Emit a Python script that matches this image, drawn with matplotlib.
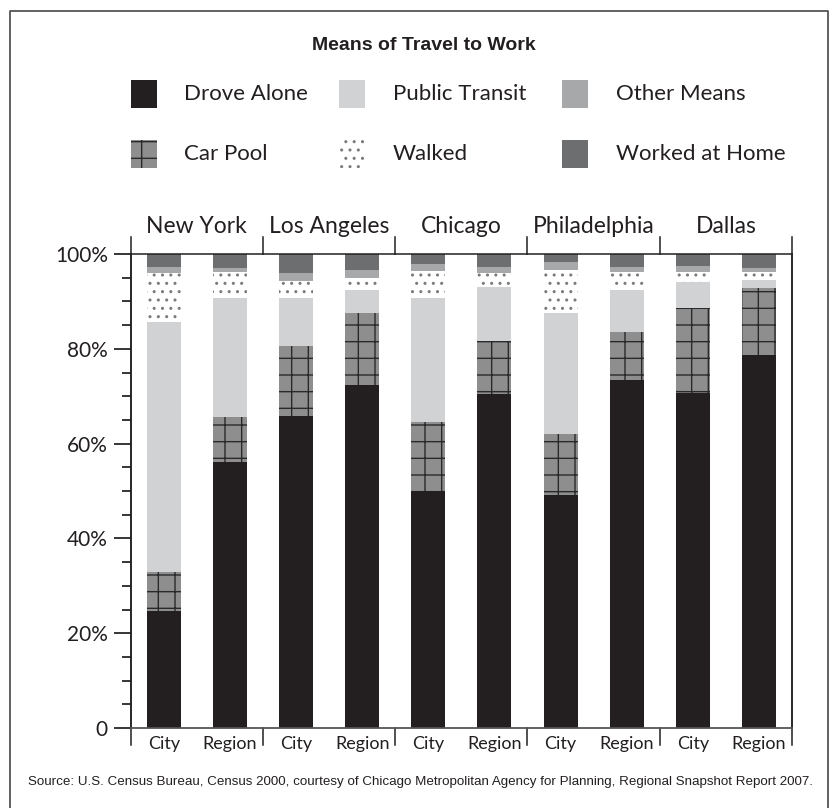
import numpy as np
import matplotlib
matplotlib.use("Agg")
import matplotlib.pyplot as plt
from matplotlib.patches import Rectangle
from matplotlib.lines import Line2D
import matplotlib.transforms as mtransforms
from matplotlib import font_manager

# data: share of workers by mode (percent), bottom to top of each stack
cities = ["New York", "Los Angeles", "Chicago", "Philadelphia", "Dallas"]
areas = ["City", "Region"]
modes = ["Drove Alone", "Car Pool", "Public Transit", "Walked", "Other Means", "Worked at Home"]

# order of bars: NY City, NY Region, LA City, LA Region, ...
drove_alone = [24.7, 56.1, 65.8, 72.4, 50.0, 70.5, 49.2, 73.4, 70.7, 78.7]
car_pool = [8.2, 9.6, 14.8, 15.2, 14.6, 11.1, 12.8, 10.1, 17.9, 14.1]
public_transit = [52.8, 25.0, 10.1, 4.8, 26.1, 11.4, 25.6, 8.9, 5.5, 1.7]
walked = [10.3, 5.6, 3.6, 2.6, 5.7, 3.0, 9.0, 3.8, 2.1, 1.7]
other_means = [1.2, 0.8, 1.7, 1.6, 1.5, 1.3, 1.7, 1.1, 1.3, 0.8]
worked_home = [2.8, 3.0, 4.0, 3.4, 2.1, 2.7, 1.7, 2.7, 2.5, 3.0]

yticks = [0, 20, 40, 60, 80, 100]
ytick_labels = ["0", "20%", "40%", "60%", "80%", "100%"]

series = [drove_alone, car_pool, public_transit, walked, other_means, worked_home]
styles = {
    "Drove Alone": dict(color="#231f20"),
    "Car Pool": dict(facecolor="#8e8e8e", edgecolor="#2a2a2a", hatch="+"),
    "Public Transit": dict(color="#d1d2d4"),
    "Walked": dict(facecolor="white", edgecolor="#7a7a7a", hatch=".."),
    "Other Means": dict(color="#a7a8aa"),
    "Worked at Home": dict(color="#6d6e70"),
}

plt.rcParams["hatch.linewidth"] = 1.0
sans = ["Lato", "DejaVu Sans"]

# condensed face for title and source line, if there is one
names = {f.name for f in font_manager.fontManager.ttflist}
if "DejaVu Sans Condensed" in names:
    narrow = dict(family="DejaVu Sans Condensed")
    src_size, title_size = 9.9, 14.5
else:
    narrow = dict(family="Liberation Sans")
    src_size, title_size = 9.6, 14

W, H = 831, 808
fig = plt.figure(figsize=(W / 100, H / 100), dpi=100)


def fx(x):
    return x / W


def fy(y):
    return 1 - y / H


ax_l, ax_r, ax_t, ax_b = 130.7, 792, 254, 728
ax = fig.add_axes([fx(ax_l), fy(ax_b), fx(ax_r - ax_l), (ax_b - ax_t) / H])

x = np.arange(len(drove_alone))
bottom = np.zeros(len(x))
for name, vals in zip(modes, series):
    ax.bar(x, vals, width=0.514, bottom=bottom, linewidth=0, **styles[name])
    bottom += np.array(vals)

ax.set_xlim(-0.5, len(x) - 0.5)
ax.set_ylim(0, 100)
ax.set_yticks(yticks)
ax.set_yticklabels(ytick_labels, fontsize=15, family=sans, color="#231f20")
ax.set_yticks(np.arange(0, 101, 5), minor=True)
ax.tick_params(axis="y", which="major", length=12.2, width=1.1, pad=4.3, direction="out")
ax.tick_params(axis="y", which="minor", length=6.5, width=1.1, direction="out")
ax.set_xticks(x)
ax.set_xticklabels(areas * len(cities), fontsize=13, family=sans, color="#231f20")
ax.tick_params(axis="x", length=0, pad=6)

for side in ["left", "right", "top"]:
    ax.spines[side].set_linewidth(1.1)
    ax.spines[side].set_color("#231f20")
ax.spines["bottom"].set_color("#555555")
ax.spines["bottom"].set_linewidth(1.3)

# group separators sticking out above and below the plot
trans = mtransforms.blended_transform_factory(ax.transData, ax.transAxes)
ext = 17 / (ax_b - ax_t)
for i in range(len(cities) + 1):
    xs = i * 2 - 0.5
    if i in (0, len(cities)):
        ax.add_line(Line2D([xs, xs], [-ext, 1 + ext], transform=trans, color="#231f20",
                           lw=1.1, clip_on=False))
    else:
        for y0, y1 in [(1, 1 + ext), (-ext, 0)]:
            ax.add_line(Line2D([xs, xs], [y0, y1], transform=trans, color="#231f20",
                               lw=1.1, clip_on=False))

for i, c in enumerate(cities):
    ax.text(i * 2 + 0.5, 1 + 21 / (ax_b - ax_t), c, transform=trans, ha="center",
            va="baseline", fontsize=16.5, family=sans, color="#231f20")

# title
fig.text(fx(424), fy(46), "Means of Travel to Work", ha="center", va="center",
         fontsize=title_size, fontweight="bold", color="#231f20", **narrow)

# legend
leg_x = [131, 339, 562]
txt_x = [184, 393, 615.5]
rows = [94, 154]
leg_order = [["Drove Alone", "Public Transit", "Other Means"],
             ["Car Pool", "Walked", "Worked at Home"]]
for r, row_names in enumerate(leg_order):
    for c, name in enumerate(row_names):
        st = dict(styles[name])
        rect = Rectangle((fx(leg_x[c]), fy(rows[r] + 14)), fx(26), 28 / H,
                         transform=fig.transFigure, linewidth=0, **st)
        fig.patches.append(rect)
        fig.text(fx(txt_x[c]), fy(rows[r]), name, ha="left", va="center",
                 fontsize=16, family=sans, color="#231f20")

# source
fig.text(fx(420), fy(782),
         "Source: U.S. Census Bureau, Census 2000, courtesy of Chicago Metropolitan Agency "
         "for Planning, Regional Snapshot Report 2007.",
         ha="center", va="center", fontsize=src_size, color="#231f20", **narrow)

# outer frame (open at the bottom)
fig.add_artist(Line2D([fx(10), fx(10), fx(828), fx(828)], [fy(812), fy(11), fy(11), fy(812)],
                      transform=fig.transFigure, color="#555555", lw=1.3))

fig.savefig("out.png", dpi=100)
